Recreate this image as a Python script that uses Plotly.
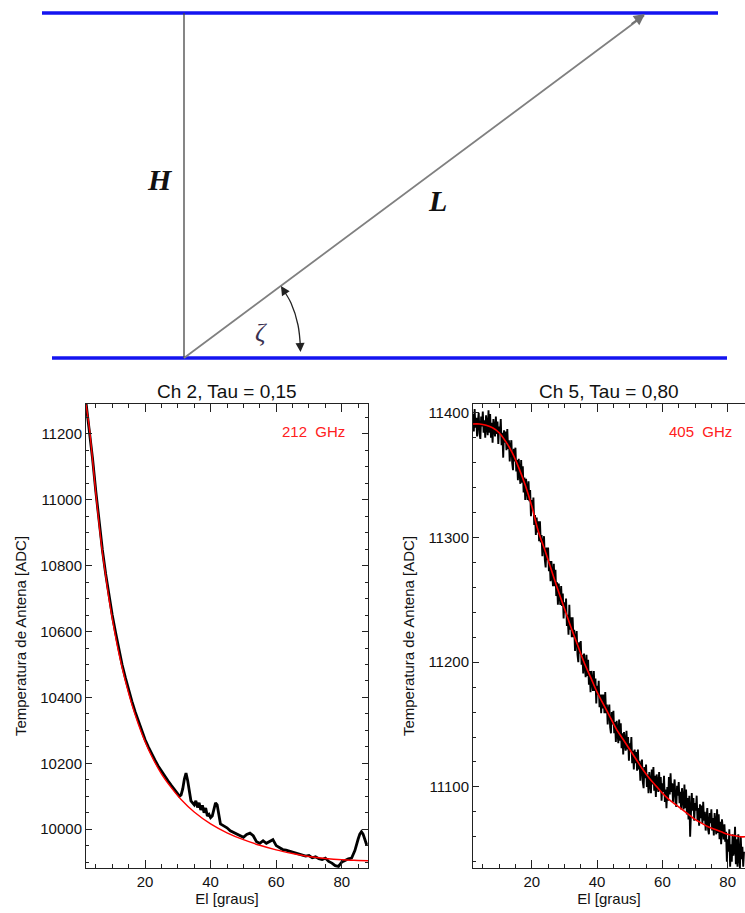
import plotly.graph_objects as go

# ---------------- data: Ch 2 (212 GHz) ----------------
el_ch2_fit = [2, 3, 4, 5, 6, 7, 8, 9, 10, 12, 14, 16, 18, 20, 22, 25, 28, 31, 35, 40,
              45, 50, 55, 60, 65, 70, 75, 80, 85, 88]
t_ch2_fit = [11290, 11219, 11121, 11019, 10925, 10840, 10770, 10700, 10640, 10535,
             10450, 10378, 10318, 10266, 10222, 10168, 10126, 10090, 10052, 10016,
             9989, 9968, 9951, 9937, 9926, 9917, 9911, 9907, 9905, 9904]

el_ch2 = [2, 3, 4, 5, 6, 7, 8, 9, 10, 11, 12, 13, 14, 15, 16, 17, 18, 19, 20, 21,
          22, 23, 24, 25, 26, 27, 28, 29, 30, 30.5, 31, 31.5, 32, 32.5, 33, 33.5, 34,
          34.5, 35, 35.5, 36, 36.5, 37, 37.5, 38, 38.5, 39, 39.5, 40, 40.5, 41, 41.5,
          42, 42.5, 43, 44, 45, 46, 47, 48, 49, 50, 51, 52, 53, 54, 55, 56, 57, 58, 59,
          60, 61, 62, 63, 64, 65, 66, 67, 68, 69, 70, 71, 72, 73, 74, 75, 76, 77, 78,
          79, 80, 81, 82, 83, 84, 85, 85.5, 86, 86.5, 87, 87.6]
t_ch2 = [11295, 11218, 11125, 11025, 10932, 10848, 10775, 10708, 10650, 10598,
         10548, 10500, 10460, 10420, 10388, 10356, 10326, 10300, 10272, 10250,
         10228, 10210, 10192, 10176, 10160, 10147, 10133, 10120, 10110, 10100,
         10104, 10122, 10152, 10170, 10148, 10110, 10086, 10080, 10074, 10086,
         10066, 10080, 10058, 10072, 10050, 10064, 10040, 10045, 10035, 10040,
         10060, 10080, 10074, 10040, 10016, 10010, 10004, 9995, 9990, 9984,
         9978, 9975, 9984, 9988, 9980, 9962, 9957, 9965, 9957, 9962,
         9968, 9950, 9944, 9938, 9936, 9932, 9930, 9927, 9925, 9921,
         9918, 9920, 9913, 9916, 9910, 9908, 9912, 9902, 9897, 9889,
         9887, 9900, 9905, 9910, 9912, 9935, 9970, 9985, 9992, 9985, 9970, 9952]

# ---------------- data: Ch 5 (405 GHz) ----------------
el_ch5_fit = [2, 4, 6, 8, 10, 12, 14, 16, 18, 20, 22, 24, 26, 28, 30, 32, 34, 36, 38,
              40, 42, 44, 46, 48, 50, 52, 54, 56, 58, 60, 62, 64, 66, 68, 70, 72, 74,
              76, 78, 80, 82, 84, 85.3]
t_ch5_fit = [11391, 11391, 11390, 11388, 11384, 11377, 11368, 11356, 11342, 11325,
             11305, 11290, 11274, 11258, 11243, 11228, 11214, 11200, 11188, 11176,
             11166, 11156, 11146, 11138, 11130, 11122, 11114, 11107, 11101, 11095,
             11090, 11086, 11082, 11078, 11074, 11071, 11068, 11066, 11064, 11062,
             11061, 11060, 11060]

el_ch5 = [
    2, 2.25, 2.5, 2.75, 3, 3.25, 3.5, 3.75, 4, 4.25, 4.5, 4.75, 5, 5.25, 5.5, 5.75, 6, 6.25, 6.5, 6.75,
    7, 7.25, 7.5, 7.75, 8, 8.25, 8.5, 8.75, 9, 9.25, 9.5, 9.75, 10, 10.25, 10.5, 10.75, 11, 11.25, 11.5, 11.75,
    12, 12.25, 12.5, 12.75, 13, 13.25, 13.5, 13.75, 14, 14.25, 14.5, 14.75, 15, 15.25, 15.5, 15.75, 16, 16.25, 16.5, 16.75,
    17, 17.25, 17.5, 17.75, 18, 18.25, 18.5, 18.75, 19, 19.25, 19.5, 19.75, 20, 20.25, 20.5, 20.75, 21, 21.25, 21.5, 21.75,
    22, 22.25, 22.5, 22.75, 23, 23.25, 23.5, 23.75, 24, 24.25, 24.5, 24.75, 25, 25.25, 25.5, 25.75, 26, 26.25, 26.5, 26.75,
    27, 27.25, 27.5, 27.75, 28, 28.25, 28.5, 28.75, 29, 29.25, 29.5, 29.75, 30, 30.25, 30.5, 30.75, 31, 31.25, 31.5, 31.75,
    32, 32.25, 32.5, 32.75, 33, 33.25, 33.5, 33.75, 34, 34.25, 34.5, 34.75, 35, 35.25, 35.5, 35.75, 36, 36.25, 36.5, 36.75,
    37, 37.25, 37.5, 37.75, 38, 38.25, 38.5, 38.75, 39, 39.25, 39.5, 39.75, 40, 40.25, 40.5, 40.75, 41, 41.25, 41.5, 41.75,
    42, 42.25, 42.5, 42.75, 43, 43.25, 43.5, 43.75, 44, 44.25, 44.5, 44.75, 45, 45.25, 45.5, 45.75, 46, 46.25, 46.5, 46.75,
    47, 47.25, 47.5, 47.75, 48, 48.25, 48.5, 48.75, 49, 49.25, 49.5, 49.75, 50, 50.25, 50.5, 50.75, 51, 51.25, 51.5, 51.75,
    52, 52.25, 52.5, 52.75, 53, 53.25, 53.5, 53.75, 54, 54.25, 54.5, 54.75, 55, 55.25, 55.5, 55.75, 56, 56.25, 56.5, 56.75,
    57, 57.25, 57.5, 57.75, 58, 58.25, 58.5, 58.75, 59, 59.25, 59.5, 59.75, 60, 60.25, 60.5, 60.75, 61, 61.25, 61.5, 61.75,
    62, 62.25, 62.5, 62.75, 63, 63.25, 63.5, 63.75, 64, 64.25, 64.5, 64.75, 65, 65.25, 65.5, 65.75, 66, 66.25, 66.5, 66.75,
    67, 67.25, 67.5, 67.75, 68, 68.25, 68.5, 68.75, 69, 69.25, 69.5, 69.75, 70, 70.25, 70.5, 70.75, 71, 71.25, 71.5, 71.75,
    72, 72.25, 72.5, 72.75, 73, 73.25, 73.5, 73.75, 74, 74.25, 74.5, 74.75, 75, 75.25, 75.5, 75.75, 76, 76.25, 76.5, 76.75,
    77, 77.25, 77.5, 77.75, 78, 78.25, 78.5, 78.75, 79, 79.25, 79.5, 79.75, 80, 80.25, 80.5, 80.75, 81, 81.25, 81.5, 81.75,
    82, 82.25, 82.5, 82.75, 83, 83.25, 83.5, 83.75, 84, 84.25, 84.5, 84.75, 85]
t_ch5 = [
    11399, 11385, 11403, 11388, 11396, 11381, 11393, 11400, 11383, 11379, 11397, 11389, 11401, 11384, 11394, 11380, 11398, 11392, 11382, 11402,
    11384, 11399, 11380, 11392, 11376, 11395, 11388, 11381, 11397, 11383, 11393, 11375, 11389, 11383, 11395, 11374, 11384, 11364, 11386, 11376,
    11385, 11370, 11387, 11371, 11378, 11361, 11372, 11378, 11360, 11354, 11371, 11361, 11372, 11353, 11362, 11346, 11363, 11355, 11343, 11362,
    11344, 11357, 11336, 11348, 11330, 11347, 11339, 11330, 11345, 11329, 11338, 11317, 11330, 11322, 11332, 11310, 11318, 11302, 11316, 11304,
    11313, 11297, 11313, 11296, 11302, 11285, 11296, 11301, 11282, 11276, 11292, 11282, 11292, 11273, 11281, 11265, 11281, 11273, 11261, 11279,
    11261, 11274, 11253, 11264, 11246, 11263, 11255, 11246, 11261, 11245, 11255, 11235, 11248, 11240, 11251, 11229, 11238, 11222, 11246, 11226,
    11236, 11220, 11236, 11220, 11226, 11209, 11219, 11225, 11206, 11200, 11216, 11207, 11217, 11198, 11206, 11191, 11207, 11199, 11188, 11206,
    11189, 11202, 11182, 11193, 11176, 11193, 11186, 11177, 11193, 11177, 11187, 11167, 11181, 11174, 11185, 11164, 11174, 11159, 11174, 11163,
    11174, 11159, 11176, 11159, 11166, 11150, 11161, 11166, 11148, 11143, 11160, 11150, 11161, 11143, 11152, 11136, 11153, 11146, 11135, 11154,
    11137, 11151, 11131, 11143, 11126, 11144, 11137, 11129, 11145, 11130, 11140, 11121, 11135, 11128, 11140, 11119, 11129, 11114, 11130, 11119,
    11128, 11113, 11130, 11114, 11121, 11105, 11116, 11122, 11104, 11099, 11116, 11107, 11118, 11100, 11110, 11095, 11112, 11105, 11095, 11114,
    11102, 11116, 11097, 11109, 11092, 11110, 11104, 11096, 11112, 11097, 11108, 11089, 11103, 11096, 11109, 11088, 11098, 11083, 11100, 11089,
    11108, 11094, 11111, 11096, 11103, 11088, 11099, 11106, 11088, 11084, 11101, 11093, 11104, 11087, 11096, 11082, 11099, 11093, 11082, 11102,
    11083, 11098, 11078, 11091, 11074, 11093, 11060, 11079, 11095, 11081, 11091, 11073, 11087, 11081, 11093, 11073, 11083, 11069, 11086, 11075,
    11085, 11071, 11088, 11073, 11080, 11065, 11077, 11083, 11066, 11062, 11079, 11071, 11082, 11065, 11075, 11061, 11079, 11073, 11062, 11082,
    11063, 11078, 11058, 11072, 11054, 11074, 11066, 11058, 11070, 11056, 11064, 11040, 11058, 11048, 11066, 11036, 11054, 11040, 11062, 11045,
    11050, 11068, 11038, 11058, 11036, 11062, 11044, 11035, 11060, 11042, 11052, 11036, 11048]

# ---------------- diagram (pixel units of the top sketch) ----------------
top_line_x, top_line_y = [42, 718], [13, 13]
bottom_line_x, bottom_line_y = [52, 727], [358, 358]
vert_x, vert_y = [184, 184], [13, 358]
slant_x, slant_y = [184, 644], [358, 15.5]
arc_x = [282, 291, 298, 300.5]
arc_y = [288, 303, 325, 348]

FONT = "Liberation Sans, Arial, Helvetica, sans-serif"
SERIF = "Liberation Serif, Times New Roman, serif"

fig = go.Figure()

# diagram traces
for xs, ys, col, w in [
    (top_line_x, top_line_y, "#1414f0", 3.5),
    (bottom_line_x, bottom_line_y, "#1414f0", 3.5),
    (vert_x, vert_y, "#444444", 1.3),
    (slant_x, slant_y, "#808080", 1.8),
]:
    fig.add_trace(go.Scatter(x=xs, y=ys, mode="lines", line=dict(color=col, width=w),
                             xaxis="x3", yaxis="y3", showlegend=False, hoverinfo="skip"))
fig.add_trace(go.Scatter(x=arc_x, y=arc_y, mode="lines",
                         line=dict(color="#222222", width=1.3, shape="spline"),
                         xaxis="x3", yaxis="y3", showlegend=False, hoverinfo="skip"))

# Ch 2 traces
fig.add_trace(go.Scatter(x=el_ch2, y=t_ch2, mode="lines", line=dict(color="black", width=2.8),
                         xaxis="x", yaxis="y", showlegend=False))
fig.add_trace(go.Scatter(x=el_ch2_fit, y=t_ch2_fit, mode="lines",
                         line=dict(color="#ff0000", width=1.4, shape="spline"),
                         xaxis="x", yaxis="y", showlegend=False))
# Ch 5 traces
fig.add_trace(go.Scatter(x=el_ch5, y=t_ch5, mode="lines", line=dict(color="black", width=1.9),
                         xaxis="x2", yaxis="y2", showlegend=False))
fig.add_trace(go.Scatter(x=el_ch5_fit, y=t_ch5_fit, mode="lines",
                         line=dict(color="#ff0000", width=1.6, shape="spline"),
                         xaxis="x2", yaxis="y2", showlegend=False))

W, H = 745, 913
y_dom = [1 - 868 / H, 1 - 404 / H]

common_x = dict(ticks="inside", ticklen=8, tickwidth=1, tickcolor="#222",
                showline=True, linecolor="#222", linewidth=1, mirror="allticks",
                showgrid=False, zeroline=False, tickfont=dict(family=FONT, size=15, color="#111"),
                dtick=20, tick0=0, tickformat="d", automargin=False,
                minor=dict(ticks="inside", ticklen=4, dtick=5, tick0=0, tickcolor="#222", showgrid=False),
                title=dict(text="El [graus]", font=dict(family=FONT, size=15, color="#111"), standoff=2))
common_y = dict(ticks="inside", ticklen=6, tickwidth=1, tickcolor="#222",
                showline=True, linecolor="#222", linewidth=1, tickformat="d",
                showgrid=False, zeroline=False, tickfont=dict(family=FONT, size=15, color="#111"),
                automargin=False,
                title=dict(text="Temperatura de Antena [ADC]", font=dict(family=FONT, size=15, color="#111"),
                           standoff=10))

fig.update_layout(
    width=W, height=H, autosize=False,
    margin=dict(l=0, r=0, t=0, b=0),
    paper_bgcolor="white", plot_bgcolor="rgba(0,0,0,0)",
    xaxis=dict(domain=[86 / W, 368 / W], range=[2, 88], anchor="y", **common_x),
    yaxis=dict(domain=y_dom, range=[9882, 11291], anchor="x", dtick=200, tick0=0, mirror="allticks",
               minor=dict(ticks="inside", ticklen=3, dtick=50, tick0=0, tickcolor="#222", showgrid=False),
               **common_y),
    xaxis2=dict(domain=[473 / W, 1.0], range=[2, 85.3], anchor="y2", **common_x),
    yaxis2=dict(domain=y_dom, range=[11035, 11407], anchor="x2", dtick=100, tick0=0, mirror=False,
                minor=dict(ticks="inside", ticklen=3, dtick=20, tick0=0, tickcolor="#222", showgrid=False),
                **common_y),
    xaxis3=dict(domain=[0, 1], range=[0, W], anchor="y3", visible=False, fixedrange=True),
    yaxis3=dict(domain=[0, 1], range=[H, 0], anchor="x3", visible=False, fixedrange=True),
)

ann = []
# panel titles
ann.append(dict(text="Ch 2, Tau = 0,15", x=(86 + 368) / 2 / W, y=1 - 391 / H, xref="paper", yref="paper",
                showarrow=False, font=dict(family=FONT, size=19, color="#111"), xanchor="center", yanchor="middle"))
ann.append(dict(text="Ch 5, Tau = 0,80", x=(473 + 744) / 2 / W, y=1 - 391 / H, xref="paper", yref="paper",
                showarrow=False, font=dict(family=FONT, size=19, color="#111"), xanchor="center", yanchor="middle"))
# frequency labels
ann.append(dict(text="212\u00a0 GHz", x=347 / W, y=1 - 431 / H, xref="paper", yref="paper",
                showarrow=False, font=dict(family=FONT, size=15, color="#ff2020"), xanchor="right", yanchor="middle"))
ann.append(dict(text="405\u00a0 GHz", x=734 / W, y=1 - 431 / H, xref="paper", yref="paper",
                showarrow=False, font=dict(family=FONT, size=15, color="#ff2020"), xanchor="right", yanchor="middle"))
# diagram labels
ann.append(dict(text="<b><i>H</i></b>", x=160, y=179, xref="x3", yref="y3", showarrow=False,
                font=dict(family=SERIF, size=30, color="#111")))
ann.append(dict(text="<b><i>L</i></b>", x=437, y=200, xref="x3", yref="y3", showarrow=False,
                font=dict(family=SERIF, size=30, color="#111")))
ann.append(dict(text="<i>ζ</i>", x=261, y=332, xref="x3", yref="y3", showarrow=False,
                font=dict(family=SERIF, size=26, color="#3a3050")))
# arrow heads
ann.append(dict(text="", x=645, y=14, ax=630, ay=25, xref="x3", yref="y3", axref="x3", ayref="y3",
                showarrow=True, arrowhead=2, arrowsize=1.4, arrowwidth=1.6, arrowcolor="#707070", standoff=0))
ann.append(dict(text="", x=281, y=286, ax=286, ay=294, xref="x3", yref="y3", axref="x3", ayref="y3",
                showarrow=True, arrowhead=2, arrowsize=1.4, arrowwidth=1.3, arrowcolor="#222", standoff=0))
ann.append(dict(text="", x=300.5, y=352, ax=300, ay=342, xref="x3", yref="y3", axref="x3", ayref="y3",
                showarrow=True, arrowhead=2, arrowsize=1.4, arrowwidth=1.3, arrowcolor="#222", standoff=0))
fig.update_layout(annotations=ann)

fig.write_html("out.html", config={"displayModeBar": False},
               post_script="document.body.style.margin='0';document.body.style.padding='0';")
